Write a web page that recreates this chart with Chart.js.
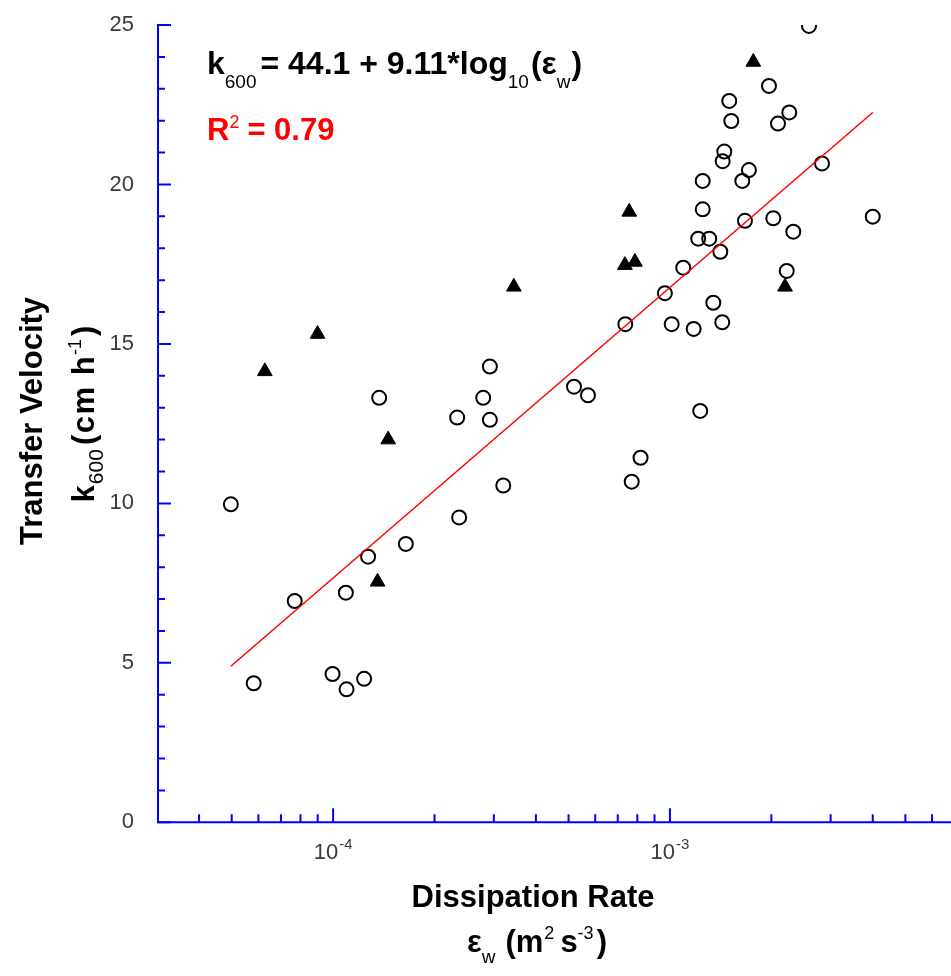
<!DOCTYPE html>
<html>
<head>
<meta charset="utf-8">
<script src="https://cdn.jsdelivr.net/npm/chart.js@4/dist/chart.umd.min.js"></script>
<style>
  html, body { margin: 0; padding: 0; background: #ffffff; overflow: hidden; }
  #wrap { position: relative; width: 951px; height: 976px; }
</style>
</head>
<body>
<div id="wrap"><canvas id="chart" width="951" height="976"></canvas></div>
<script>
// Open circles: dissipation rate (m2 s-3) and k600 (cm h-1)
const circleX = [4.97e-5, 5.81e-5, 7.69e-5, 9.96e-5, 1.096e-4, 1.091e-4, 1.236e-4, 1.27e-4, 1.37e-4, 1.644e-4,
                 2.335e-4, 2.367e-4, 2.79e-4, 2.92e-4, 2.92e-4, 3.20e-4, 5.19e-4, 5.71e-4, 7.37e-4, 7.70e-4,
                 8.18e-4, 9.66e-4, 1.012e-3, 1.095e-3, 1.176e-3, 1.213e-3, 1.23e-3, 1.251e-3, 1.251e-3, 1.308e-3,
                 1.345e-3, 1.411e-3, 1.43e-3, 1.434e-3, 1.45e-3, 1.50e-3, 1.521e-3, 1.64e-3, 1.67e-3, 1.716e-3,
                 1.968e-3, 2.027e-3, 2.093e-3, 2.222e-3, 2.261e-3, 2.324e-3, 2.587e-3, 2.828e-3, 4.0e-3];
const circleY = [9.97, 4.36, 6.94, 4.65, 4.17, 7.20, 4.50, 8.33, 13.31, 8.73,
                 12.69, 9.56, 13.31, 14.29, 12.62, 10.56, 13.66, 13.39, 15.62, 10.68,
                 11.43, 16.59, 15.62, 17.39, 15.47, 18.30, 12.90, 20.11, 19.22, 18.30,
                 16.29, 17.89, 15.68, 20.73, 21.03, 22.62, 21.99, 20.11, 18.86, 20.45,
                 23.09, 18.94, 21.91, 17.29, 22.26, 18.52, 24.97, 20.66, 18.99];

// Filled triangles
const triangleX = [6.27e-5, 8.99e-5, 1.355e-4, 1.457e-4, 3.44e-4, 7.35e-4, 7.57e-4, 7.87e-4, 1.768e-3, 2.196e-3];
const triangleY = [14.14, 15.31, 7.54, 12.00, 16.79, 17.47, 19.14, 17.57, 23.84, 16.79];

// Log fit k600 = a + b*log10(eps)
const fitIntercept = 44.1;
const fitSlope = 9.11;
const fitRange = [4.97e-5, 4.0e-3];

// Axis ticks
const yTicks = [0, 5, 10, 15, 20, 25];
const yMinorTicks = [1, 2, 3, 4, 6, 7, 8, 9, 11, 12, 13, 14, 16, 17, 18, 19, 21, 22, 23, 24];
const xMajorTicks = [1e-4, 1e-3];
const xMajorExponents = ['-4', '-3'];
const xMinorTicks = [4e-5, 5e-5, 6e-5, 7e-5, 8e-5, 9e-5,
                     2e-4, 3e-4, 4e-4, 5e-4, 6e-4, 7e-4, 8e-4, 9e-4,
                     2e-3, 3e-3, 4e-3, 5e-3, 6e-3];
const xMin = 3e-5, xMax = 6.83e-3;
const yMin = 0, yMax = 25;

const FONT = '"Liberation Sans", Arial, Helvetica, sans-serif';
const AXIS_BLUE = '#0000ff';
const TICK_TEXT = '#3a3a3a';

const fitLine = fitRange.map(x => ({ x: x, y: fitIntercept + fitSlope * Math.log10(x) }));
const circles = circleX.map((x, i) => ({ x: x, y: circleY[i] }));
const triangles = triangleX.map((x, i) => ({ x: x, y: triangleY[i] }));

// Draw a row of text runs (sub/superscripts) starting at x, or centred on x
function drawRuns(ctx, runs, x, y, align) {
  ctx.textAlign = 'left';
  ctx.textBaseline = 'alphabetic';
  const setFont = r => {
    ctx.font = (r.bold ? 'bold ' : '') + r.size + 'px ' + FONT;
    ctx.letterSpacing = (r.spacing || 0) + 'px';
  };
  const widths = runs.map(r => { setFont(r); return ctx.measureText(r.t).width + (r.gap || 0); });
  const total = widths.reduce((a, b) => a + b, 0);
  let cx = align === 'center' ? x - total / 2 : x;
  runs.forEach((r, i) => {
    setFont(r);
    ctx.fillStyle = r.color || '#000000';
    ctx.fillText(r.t, cx, y + (r.dy || 0));
    cx += widths[i];
  });
  ctx.letterSpacing = '0px';
}

const axesPlugin = {
  id: 'plotAxes',
  beforeDatasetsDraw(chart) {
    const { ctx, chartArea } = chart;
    const xs = chart.scales.x, ys = chart.scales.y;
    const left = xs.getPixelForValue(xMin);
    const bottom = ys.getPixelForValue(yMin);
    const top = ys.getPixelForValue(yMax);
    ctx.save();
    ctx.strokeStyle = AXIS_BLUE;
    ctx.lineWidth = 2;
    ctx.beginPath();
    ctx.moveTo(left + 1, top - 1);
    ctx.lineTo(left + 1, bottom);
    ctx.lineTo(chartArea.right, bottom);
    ctx.stroke();
    // y ticks, pointing into the plot
    ctx.beginPath();
    yTicks.forEach(v => { const p = ys.getPixelForValue(v); ctx.moveTo(left, p); ctx.lineTo(left + 14, p); });
    yMinorTicks.forEach(v => { const p = ys.getPixelForValue(v); ctx.moveTo(left, p); ctx.lineTo(left + 8, p); });
    // x ticks
    xMajorTicks.forEach(v => { const p = xs.getPixelForValue(v); ctx.moveTo(p, bottom); ctx.lineTo(p, bottom - 14); });
    xMinorTicks.forEach(v => { const p = xs.getPixelForValue(v); ctx.moveTo(p, bottom); ctx.lineTo(p, bottom - 8); });
    ctx.stroke();
    ctx.restore();
  },
  afterDraw(chart) {
    const { ctx } = chart;
    const xs = chart.scales.x, ys = chart.scales.y;
    ctx.save();
    // y tick labels
    ctx.font = '22px ' + FONT;
    ctx.fillStyle = TICK_TEXT;
    ctx.textAlign = 'right';
    ctx.textBaseline = 'middle';
    yTicks.forEach(v => ctx.fillText(String(v), 134, ys.getPixelForValue(v)));
    // x tick labels: 10 with exponent
    xMajorTicks.forEach((v, i) => {
      drawRuns(ctx, [
        { t: '10', size: 22, color: TICK_TEXT, gap: 1 },
        { t: xMajorExponents[i], size: 15, dy: -10, color: TICK_TEXT }
      ], xs.getPixelForValue(v), 859, 'center');
    });
    // x axis title
    drawRuns(ctx, [{ t: 'Dissipation Rate', size: 31, bold: true }], 533, 907, 'center');
    drawRuns(ctx, [
      { t: 'ε', size: 31, bold: true },
      { t: 'w', size: 19, dy: 11, gap: 10 },
      { t: '(m', size: 31, bold: true, gap: 1 },
      { t: '2', size: 18, dy: -13, gap: 6 },
      { t: 's', size: 31, bold: true },
      { t: '-3', size: 18, dy: -13, gap: 3 },
      { t: ')', size: 31, bold: true }
    ], 537, 952, 'center');
    // y axis titles, rotated
    ctx.save();
    ctx.translate(42, 421);
    ctx.rotate(-Math.PI / 2);
    drawRuns(ctx, [{ t: 'Transfer Velocity', size: 31, bold: true }], 0, 0, 'center');
    ctx.restore();
    ctx.save();
    ctx.translate(94, 414);
    ctx.rotate(-Math.PI / 2);
    drawRuns(ctx, [
      { t: 'k', size: 31, bold: true, gap: 1 },
      { t: '600', size: 21, dy: 9, gap: 4 },
      { t: '(cm h', size: 31, bold: true, spacing: 1.5 },
      { t: '-1', size: 18, dy: -13, gap: 3 },
      { t: ')', size: 31, bold: true }
    ], 0, 0, 'center');
    ctx.restore();
    // fit equation
    drawRuns(ctx, [
      { t: 'k', size: 32, bold: true },
      { t: '600', size: 19, dy: 14, gap: 4 },
      { t: '= 44.1 + 9.11*log', size: 32, bold: true },
      { t: '10', size: 19, dy: 14, gap: 2 },
      { t: '(ε', size: 32, bold: true },
      { t: 'w', size: 19, dy: 14, gap: 1 },
      { t: ')', size: 32, bold: true }
    ], 207, 74, 'left');
    drawRuns(ctx, [
      { t: 'R', size: 31, bold: true, color: '#ff0000' },
      { t: '2', size: 18, dy: -12, color: '#ff0000', gap: 8 },
      { t: '= 0.79', size: 31, bold: true, color: '#ff0000' }
    ], 207, 140, 'left');
    ctx.restore();
  }
};

new Chart(document.getElementById('chart'), {
  type: 'scatter',
  data: {
    datasets: [
      {
        type: 'line', data: fitLine, borderColor: '#ff0000', borderWidth: 1.5,
        pointRadius: 0, fill: false, tension: 0
      },
      {
        data: circles, pointStyle: 'circle', pointRadius: 7, pointBorderWidth: 2,
        pointBorderColor: '#000000', pointBackgroundColor: 'rgba(0,0,0,0)'
      },
      {
        data: triangles, pointStyle: 'triangle', pointRadius: 8.5, pointBorderWidth: 1,
        pointBorderColor: '#000000', pointBackgroundColor: '#000000'
      }
    ]
  },
  options: {
    responsive: false,
    animation: false,
    devicePixelRatio: 1,
    layout: { autoPadding: false, padding: { left: 157, right: 0, top: 25, bottom: 153.7 } },
    plugins: { legend: { display: false }, tooltip: { enabled: false } },
    scales: {
      x: { type: 'logarithmic', min: xMin, max: xMax, display: false },
      y: { type: 'linear', min: yMin, max: yMax, display: false }
    }
  },
  plugins: [axesPlugin]
});
</script>
</body>
</html>
